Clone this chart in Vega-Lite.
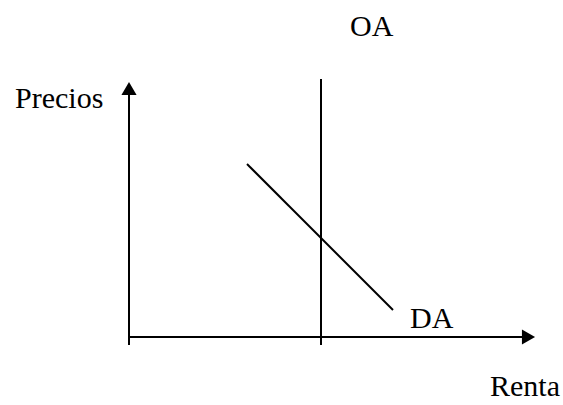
{
  "$schema": "https://vega.github.io/schema/vega-lite/v6.json",
  "width": 563,
  "height": 405,
  "autosize": {"type": "fit", "contains": "padding"},
  "padding": 0,
  "background": "white",
  "config": {"view": {"stroke": null}},
  "datasets": {
    "segments": [
      {"id": "yaxis", "x": 129, "y": 345, "x2": 129, "y2": 95},
      {"id": "xaxis", "x": 129, "y": 337, "x2": 522, "y2": 337},
      {"id": "OA", "x": 321, "y": 79, "x2": 321, "y2": 345},
      {"id": "DA", "x": 247, "y": 164, "x2": 393, "y2": 310}
    ],
    "arrows": [
      {"x": 129, "y": 88.5, "shape": "triangle-up"},
      {"x": 528.5, "y": 337, "shape": "triangle-right"}
    ],
    "labels": [
      {"label": "OA", "x": 350, "y": 36},
      {"label": "Precios", "x": 15, "y": 108},
      {"label": "DA", "x": 410, "y": 328},
      {"label": "Renta", "x": 490, "y": 396}
    ]
  },
  "encoding": {
    "x": {"type": "quantitative", "scale": {"domain": [0, 563], "nice": false, "zero": false}, "axis": null},
    "y": {"type": "quantitative", "scale": {"domain": [0, 405], "nice": false, "zero": false, "reverse": true}, "axis": null}
  },
  "layer": [
    {
      "data": {"name": "segments"},
      "mark": {"type": "rule", "color": "black", "strokeWidth": 2},
      "encoding": {
        "x": {"field": "x", "type": "quantitative"},
        "y": {"field": "y", "type": "quantitative"},
        "x2": {"field": "x2"},
        "y2": {"field": "y2"}
      }
    },
    {
      "data": {"name": "arrows"},
      "mark": {"type": "point", "filled": true, "color": "black", "opacity": 1, "size": 230},
      "encoding": {
        "x": {"field": "x", "type": "quantitative"},
        "y": {"field": "y", "type": "quantitative"},
        "shape": {"field": "shape", "type": "nominal", "scale": null, "legend": null}
      }
    },
    {
      "data": {"name": "labels"},
      "mark": {"type": "text", "font": "Liberation Serif", "fontSize": 30, "align": "left", "baseline": "alphabetic", "color": "black"},
      "encoding": {
        "x": {"field": "x", "type": "quantitative"},
        "y": {"field": "y", "type": "quantitative"},
        "text": {"field": "label", "type": "nominal"}
      }
    }
  ]
}
